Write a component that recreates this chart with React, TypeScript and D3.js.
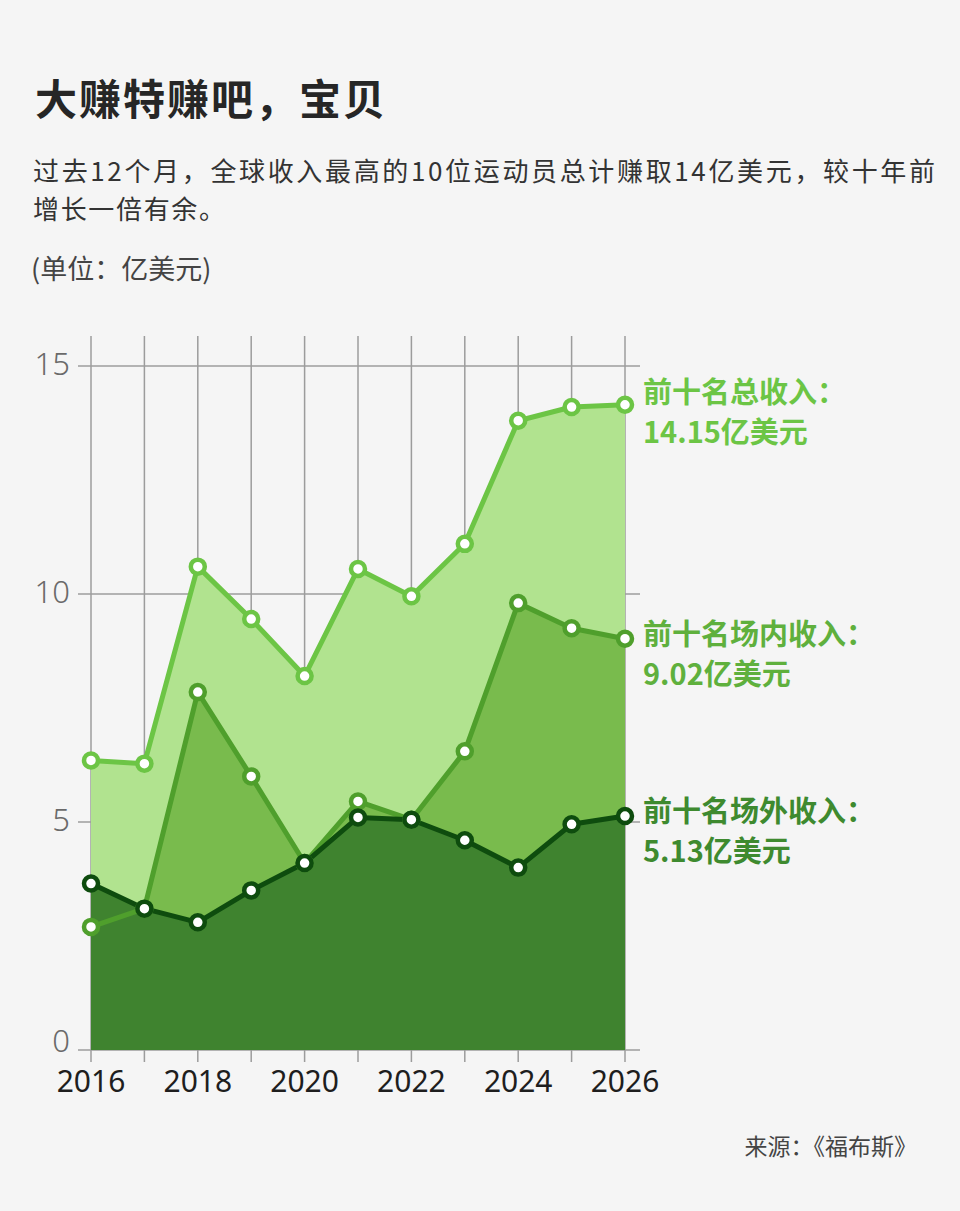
import React, { useRef, useEffect } from 'react';
import * as d3 from 'd3';

// 单位：亿美元
const years = [2016, 2017, 2018, 2019, 2020, 2021, 2022, 2023, 2024, 2025, 2026];
const totalIncome = [6.35, 6.28, 10.6, 9.45, 8.2, 10.55, 9.95, 11.1, 13.8, 14.1, 14.15];
const onFieldIncome = [2.7, 3.1, 7.85, 6.0, 4.1, 5.45, 5.05, 6.55, 9.8, 9.25, 9.02];
const offFieldIncome = [3.65, 3.1, 2.8, 3.5, 4.1, 5.1, 5.05, 4.6, 4.0, 4.95, 5.13];
const yTicks = [0, 5, 10, 15];
const xLabelYears = [2016, 2018, 2020, 2022, 2024, 2026];

const seriesNames = ['前十名总收入：', '前十名场内收入：', '前十名场外收入：'];
const seriesValueLabels = ['14.15亿美元', '9.02亿美元', '5.13亿美元'];

const W = 960;
const H = 1211;
const FONT = '"Noto Sans CJK SC", "Noto Sans", sans-serif';

const App = () => {
  const svgRef = useRef<SVGSVGElement>(null);

  useEffect(() => {
    document.body.style.margin = '0';
    const svg = d3.select(svgRef.current);
    svg.selectAll('*').remove();

    svg.append('rect').attr('width', W).attr('height', H).attr('fill', '#f5f5f5');

    // Header
    svg.append('text')
      .attr('x', 35).attr('y', 115)
      .attr('font-family', FONT).attr('font-size', 42).attr('font-weight', 'bold')
      .attr('textLength', 350)
      .attr('fill', '#262626')
      .text('大赚特赚吧，宝贝');

    const sub = ['过去12个月，全球收入最高的10位运动员总计赚取14亿美元，较十年前', '增长一倍有余。'];
    sub.forEach((s, i) => {
      svg.append('text')
        .attr('x', 33).attr('y', 181 + i * 38)
        .attr('font-family', FONT).attr('font-size', 26)
        .attr('textLength', i === 0 ? 902 : 192)
        .attr('fill', '#333')
        .text(s);
    });

    svg.append('text')
      .attr('x', 31).attr('y', 279)
      .attr('font-family', FONT).attr('font-size', 27)
      .attr('fill', '#444')
      .text('(单位：亿美元)');

    // Scales
    const x = d3.scaleLinear().domain([2016, 2026]).range([91, 625]);
    const y = d3.scaleLinear().domain([0, 15]).range([1050, 366]);

    const grid = svg.append('g').attr('stroke', '#9c9c9c').attr('stroke-width', 1.5);
    years.forEach(yr => {
      grid.append('line')
        .attr('x1', x(yr)).attr('x2', x(yr))
        .attr('y1', 336).attr('y2', 1062);
    });
    yTicks.forEach(t => {
      grid.append('line')
        .attr('x1', 78).attr('x2', 640)
        .attr('y1', y(t)).attr('y2', y(t));
    });

    const series = [
      { values: totalIncome, area: '#b1e38f', line: '#6cc545', label: '#6cc545' },
      { values: onFieldIncome, area: '#79bb4d', line: '#4f9f2c', label: '#5fb03d' },
      { values: offFieldIncome, area: '#3f832f', line: '#0e4c0e', label: '#3e8a2f' },
    ];

    const area = d3.area<number>()
      .x((_, i) => x(years[i]))
      .y0(y(0))
      .y1(d => y(d));
    const line = d3.line<number>()
      .x((_, i) => x(years[i]))
      .y(d => y(d));

    series.forEach(s => {
      svg.append('path').attr('d', area(s.values)).attr('fill', s.area);
    });
    series.forEach(s => {
      svg.append('path').attr('d', line(s.values))
        .attr('fill', 'none').attr('stroke', s.line)
        .attr('stroke-width', 5).attr('stroke-linejoin', 'round');
    });
    series.forEach(s => {
      svg.append('g')
        .selectAll('circle')
        .data(s.values)
        .enter()
        .append('circle')
        .attr('cx', (_, i) => x(years[i]))
        .attr('cy', d => y(d))
        .attr('r', 7)
        .attr('fill', '#fff')
        .attr('stroke', s.line)
        .attr('stroke-width', 4.5);
    });

    // Axis labels
    yTicks.forEach(t => {
      svg.append('text')
        .attr('x', 70).attr('y', t === 0 ? y(t) + 2 : y(t) + 9)
        .attr('text-anchor', 'end')
        .attr('font-family', '"Noto Sans", sans-serif').attr('font-size', 31)
        .attr('font-weight', 300)
        .attr('fill', '#6a6a6a')
        .text(t);
    });
    xLabelYears.forEach(yr => {
      svg.append('text')
        .attr('x', x(yr)).attr('y', 1092)
        .attr('text-anchor', 'middle')
        .attr('font-family', '"Noto Sans", sans-serif').attr('font-size', 30)
        .attr('fill', '#1e1e1e')
        .text(yr);
    });

    // Series labels at the right end
    const labelBase = [403, 645, 822];
    series.forEach((s, i) => {
      svg.append('text')
        .attr('x', 643).attr('y', labelBase[i])
        .attr('font-family', FONT).attr('font-size', 29).attr('font-weight', 'bold')
        .attr('fill', s.label)
        .text(seriesNames[i]);
      svg.append('text')
        .attr('x', 643).attr('y', labelBase[i] + 40)
        .attr('font-family', FONT).attr('font-size', 29).attr('font-weight', 'bold')
        .attr('fill', s.label)
        .text(seriesValueLabels[i]);
    });

    // Source
    svg.append('text')
      .attr('x', 917).attr('y', 1155)
      .attr('text-anchor', 'end')
      .attr('font-family', FONT).attr('font-size', 23)
      .attr('fill', '#444')
      .text('来源：《福布斯》');
  }, []);

  return <svg ref={svgRef} width={W} height={H} style={{ display: 'block' }}></svg>;
};

export default App;
